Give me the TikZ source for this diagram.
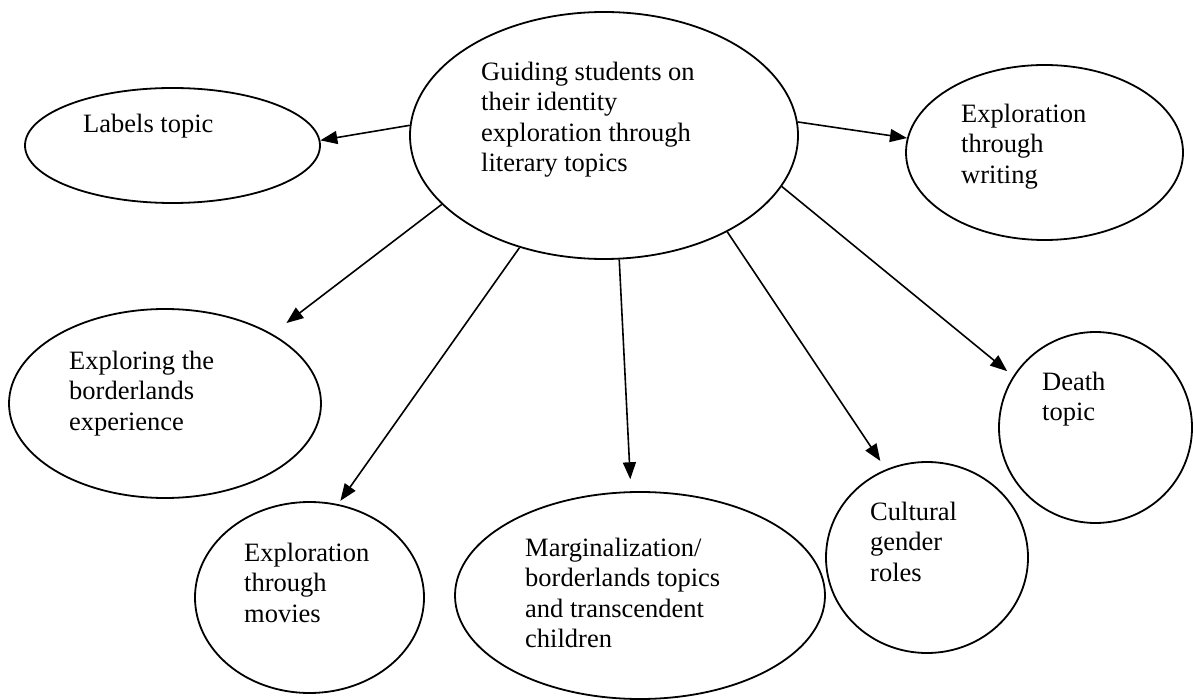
\documentclass[tikz,border=0pt]{standalone}
\usepackage{fontspec}
\setmainfont{Liberation Serif}
\usetikzlibrary{shapes.geometric,arrows.meta}
\begin{document}
\begin{tikzpicture}[x=1pt,y=-1pt,
  bubble/.style={draw, ellipse, line width=1.8pt, inner sep=0pt},
  txt/.style={anchor=north west, inner sep=0pt, align=left,
              font=\fontsize{26.5}{30.5}\selectfont},
  link/.style={line width=1.6pt, -{Triangle[length=17pt,width=13pt]}}]
\fill[white] (0,0) rectangle (1193,700);
\useasboundingbox (0,0) rectangle (1193,700);

% topic bubbles
\node[bubble, minimum width=388pt, minimum height=247pt] (C) at (604,135.5) {};
\node[bubble, minimum width=295pt, minimum height=115pt] (L) at (172.5,145.5) {};
\node[bubble, minimum width=277pt, minimum height=175pt] (W) at (1044.5,152.5) {};
\node[bubble, minimum width=312pt, minimum height=189pt] (B) at (165,403.5) {};
\node[bubble, minimum width=229pt, minimum height=191pt] (M) at (309.5,597.5) {};
\node[bubble, minimum width=370pt, minimum height=207pt] (G) at (640,595.5) {};
\node[bubble, minimum width=202pt, minimum height=191pt] (R) at (927,557.5) {};
\node[bubble, minimum width=193pt, minimum height=191pt] (D) at (1095.5,427.5) {};

% labels (first baseline minus strut height)
\node[txt] (Ct) at (481,58.65) {\strut Guiding students on\\their identity\\exploration through\\literary topics};
\node[txt] (Lt) at (83,110.65) {\strut Labels topic};
\node[txt] (Wt) at (961,100.65) {\strut Exploration\\through\\writing};
\node[txt] (Bt) at (69,347.65) {\strut Exploring the\\borderlands\\experience};
\node[txt] (Mt) at (244,539.65) {\strut Exploration\\through\\movies};
\node[txt] (Gt) at (525,534.65) {\strut Marginalization/\\borderlands topics\\and transcendent\\children};
\node[txt] (Rt) at (870,498.65) {\strut Cultural\\gender\\roles};
\node[txt] (Dt) at (1042,368.65) {\strut Death\\topic};

% connectors from the central bubble
\draw[link] (C.177.2) -- (L.2.1);
\draw[link] (C.4) -- (W.174.4);
\draw[link, shorten >=17.8pt] (C.203.1) -- (B.33.5);
\draw[link, shorten >=4pt] (C.233.6) -- (M.73.5);
\draw[link, shorten >=12pt] (C.277.4) -- (G.95.4);
\draw[link, shorten >=10pt] (C.322.1) -- (R.115);
\draw[link, shorten >=7.7pt] (C.344.1) -- (D.148.4);
\end{tikzpicture}
\end{document}
